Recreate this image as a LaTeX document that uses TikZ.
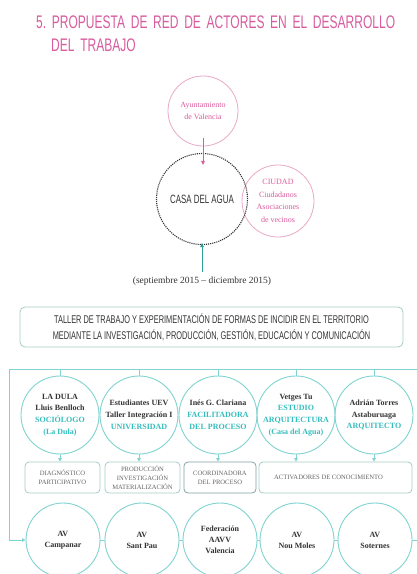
\documentclass[tikz,border=0pt]{standalone}
\usepackage{fontspec}
\setmainfont{Liberation Serif}
\newfontfamily\cond[FakeStretch=0.66]{Liberation Sans}
\newfontfamily\condT[FakeStretch=0.6605, WordSpace=1.7]{Liberation Sans}
\usetikzlibrary{arrows.meta}
\definecolor{pinkT}{HTML}{D85C9E}
\definecolor{pinkC}{HTML}{E9A9C7}
\definecolor{pinkX}{HTML}{DA5C9E}
\definecolor{tealL}{HTML}{7FD3D0}
\definecolor{tealX}{HTML}{35BDBE}
\definecolor{tealA}{HTML}{2E9E94}
\definecolor{boxB}{HTML}{A6CCC8}
\definecolor{boxD}{HTML}{7FA3A0}
\definecolor{darkX}{HTML}{333333}
\definecolor{greyX}{HTML}{666666}
\tikzset{
  actor/.style={circle, draw=tealL, line width=0.9pt, minimum size=78pt, inner sep=0pt,
    align=center, font=\fontsize{8}{11.8}\selectfont\bfseries, text=darkX},
  avcirc/.style={actor, minimum size=74pt, font=\fontsize{8}{11}\selectfont\bfseries},
  taskbox/.style={draw=boxB, rounded corners=4pt, line width=0.8pt, align=center,
    font=\fontsize{6.6}{9}\selectfont, text=greyX, inner sep=0pt, minimum height=31pt},
  pinkcirc/.style={circle, draw=pinkC, line width=0.8pt, inner sep=0pt, align=center,
    text=pinkX, font=\fontsize{8}{12.5}\selectfont},
  tline/.style={draw=tealL, line width=0.9pt},
  tarrow/.style={tline, -{Triangle[length=3.5pt,width=3.5pt]}},
  titletext/.style={anchor=base west, inner sep=0pt, text=pinkT, font=\condT\fontsize{18.2}{23}\selectfont},
}
\begin{document}
\begin{tikzpicture}[x=1pt,y=-1pt]
\useasboundingbox (0,0) rectangle (417,574);
\fill[white] (0,0) rectangle (417,574);

% title
\node[titletext] (title1) at (36,28) {5.~PROPUESTA DE RED DE ACTORES EN EL DESARROLLO};
\node[titletext] (title2) at (51,51) {DEL TRABAJO};

% upper part
\node[pinkcirc, minimum size=70pt] (ayto) at (203,111) {Ayuntamiento\\de Valencia};
\node[pinkcirc, minimum size=72pt] (ciudad) at (278,201) {CIUDAD\\Ciudadanos\\Asociaciones\\de vecinos};
\node[circle, draw=darkX, densely dotted, line width=1.1pt, minimum size=91pt, inner sep=0pt,
  font=\cond\fontsize{12}{14}\selectfont, text=darkX] (casa) at (202,199) {CASA DEL AGUA};
\node[font=\fontsize{9.5}{11}\selectfont, text=darkX, inner sep=1pt] (sept) at (202,281)
  {(septiembre 2015 -- diciembre 2015)};
\draw[pinkX, line width=0.9pt, -{Triangle[length=4pt,width=3.5pt]}, shorten <=-8pt, shorten >=-12pt]
  (ayto.south) -- (ayto.south |- casa.north);
\draw[tealA, line width=0.9pt, -{Triangle[length=4pt,width=3.5pt]}, shorten <=3pt, shorten >=-2pt]
  (sept.north) -- (casa.south);

% taller box
\node[draw=boxB, rounded corners=5pt, line width=0.8pt, minimum width=383pt, minimum height=40pt,
  inner sep=0pt, align=center, text=darkX, font=\cond\fontsize{11.2}{16}\selectfont] (taller) at (211.5,327)
  {TALLER DE TRABAJO Y EXPERIMENTACIÓN DE FORMAS DE INCIDIR EN EL TERRITORIO\\
   MEDIANTE LA INVESTIGACIÓN, PRODUCCIÓN, GESTIÓN, EDUCACIÓN Y COMUNICACIÓN};

% actors
\node[actor] (dula) at (60,415) {LA DULA\\Lluis Benlloch\\\textcolor{tealX}{SOCIÓLOGO}\\\textcolor{tealX}{(La Dula)}};
\node[actor] (est) at (139,415) {Estudiantes UEV\\Taller Integración I\\\textcolor{tealX}{UNIVERSIDAD}};
\node[actor] (ines) at (218,415) {Inés G. Clariana\\\textcolor{tealX}{FACILITADORA}\\\textcolor{tealX}{DEL PROCESO}};
\node[actor] (vet) at (296,415) {Vetges Tu\\\textcolor{tealX}{ESTUDIO}\\\textcolor{tealX}{ARQUITECTURA}\\\textcolor{tealX}{(Casa del Agua)}};
\node[actor] (adr) at (374,415) {Adrián Torres\\Astaburuaga\\\textcolor{tealX}{ARQUITECTO}};

% task boxes
\node[taskbox, minimum width=75pt] (b1) at (62.5,477.5) {DIAGNÓSTICO\\PARTICIPATIVO};
\node[taskbox, minimum width=75pt] (b2) at (142.5,477.5) {PRODUCCIÓN\\INVESTIGACIÓN\\MATERIALIZACIÓN};
\node[taskbox, draw=boxD, minimum width=72pt] (b3) at (220,477.5) {COORDINADORA\\DEL PROCESO};
\node[taskbox, minimum width=153pt] (b4) at (335.5,477.5) {ACTIVADORES DE CONOCIMIENTO\hspace*{14pt}};

% neighbourhood associations
\node[avcirc] (camp) at (63,540) {AV\\Campanar};
\node[avcirc] (pau) at (142,540) {AV\\Sant Pau};
\node[avcirc] (fed) at (220,540) {Federación\\AAVV\\Valencia};
\node[avcirc] (nou) at (297,540) {AV\\Nou Moles};
\node[avcirc] (sot) at (375,540) {AV\\Soternes};

% frame
\coordinate (ftl) at (9,369);
\coordinate (ftr) at (417,369);
\coordinate (fbl) at (9,540);
\coordinate (fbr) at (417,540);
\draw[tarrow] (ftr) -- (ftl) -- (fbl) -- (camp.west);
\foreach \n in {dula,est,ines,vet,adr}
  \draw[tline] (\n.north |- ftl) -- (\n.north);
\draw[tarrow] (dula.south) -- (dula.south |- b1.north);
\draw[tarrow] (est.south) -- (est.south |- b2.north);
\draw[tarrow] (ines.south) -- (ines.south |- b3.north);
\draw[tarrow] (vet.south) -- (vet.south |- b4.north);
\draw[tarrow] (adr.south) -- (adr.south |- b4.north);
\draw[tline] (camp.east) -- (pau.west);
\draw[tline] (pau.east) -- (fed.west);
\draw[tline] (fed.east) -- (nou.west);
\draw[tline] (nou.east) -- (sot.west);
\draw[tline] (sot.east) -- (fbr);
\end{tikzpicture}
\end{document}
